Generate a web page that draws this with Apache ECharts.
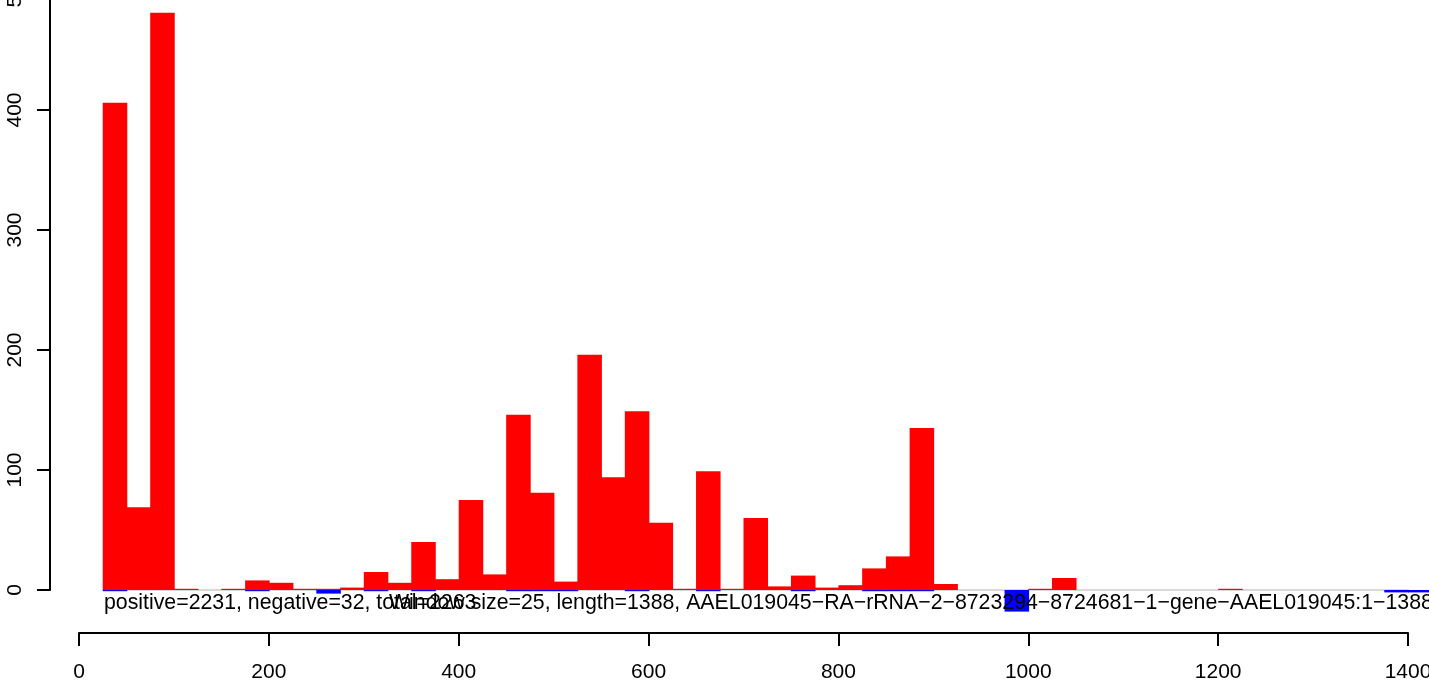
<!DOCTYPE html>
<html>
<head>
<meta charset="utf-8">
<script src="https://cdn.jsdelivr.net/npm/echarts@6/dist/echarts.min.js"></script>
<style>
html,body{margin:0;padding:0;background:#fff;}
#chart{width:1429px;height:685px;}
</style>
</head>
<body>
<div id="chart"></div>
<script>
// Bin starts (window size 25)
const binStarts = [25,50,75,100,125,150,175,200,225,250,275,300,325,350,375,400,425,450,475,500,
  525,550,575,600,625,650,675,700,725,750,775,800,825,850,875,900,925,950,975,1000,
  1025,1050,1075,1100,1125,1150,1175,1200,1225,1250,1275,1300,1325,1350,1375,1400];
const binWidth = 25;
// Positive counts per bin
const positive = [406,69,481,1,0,1,8,6,1,1,2,15,6,40,9,75,13,146,81,7,
  196,94,149,56,1,99,1,60,3,12,2,4,18,28,135,5,0,0,0,1,
  10,0,0,0,0,0,0,1,0,0,0,0,0,0,0,0];
// Negative counts per bin (magnitude)
const negative = [1,0,0,0,0,0,1,0,0,3,0,1,0,1,0,0,0,1,1,1,
  0,0,1,0,0,1,0,0,0,1,0,0,1,1,1,0,0,0,18,0,
  0,0,0,0,0,0,0,0,0,0,0,0,0,0,2,2];
const xTicks = [0,200,400,600,800,1000,1200,1400];
const yTicks = [0,100,200,300,400,500];
const statsText = 'positive=2231, negative=32, total=2263';
const titleText = 'Window size=25, length=1388, AAEL019045\u2212RA\u2212rRNA\u22122\u22128723294\u22128724681\u22121\u2212gene\u2212AAEL019045:1\u22121388';

const FONT = '"Liberation Sans", Arial, Helvetica, sans-serif';
const posData = binStarts.map((s,i)=>[s, positive[i]]);
const negData = binStarts.map((s,i)=>[s, -negative[i]]);

function rectRenderer(color){
  return function(params, api){
    const x0 = api.value(0), v = api.value(1);
    if (v === 0) return null;
    const p0 = api.coord([x0, 0]);
    const p1 = api.coord([x0 + binWidth, v]);
    return {
      type:'rect',
      shape:{x:p0[0], y:Math.min(p0[1],p1[1]), width:p1[0]-p0[0]+0.8, height:Math.abs(p1[1]-p0[1])},
      style:{fill:color}
    };
  };
}

const chart = echarts.init(document.getElementById('chart'), null, {renderer:'canvas'});
chart.setOption({
  animation:false,
  backgroundColor:'#ffffff',
  grid:{left:79, right:21, top:-10, bottom:95, containLabel:false, outerBoundsMode:'none'},
  xAxis:{
    type:'value', min:xTicks[0], max:xTicks[xTicks.length-1], interval:200,
    offset:43,
    axisLine:{show:true, onZero:false, lineStyle:{color:'#000', width:2}},
    axisTick:{show:true, length:13, lineStyle:{color:'#000', width:2}},
    axisLabel:{show:true, margin:29, color:'#000', fontSize:21, fontFamily:FONT,
      formatter:function(v){ return String(v); }},
    splitLine:{show:false}
  },
  yAxis:{
    type:'value', min:yTicks[0], max:yTicks[yTicks.length-1], interval:100,
    offset:29,
    axisLine:{show:true, onZero:false, lineStyle:{color:'#000', width:2}},
    axisTick:{show:true, length:13, lineStyle:{color:'#000', width:2}},
    axisLabel:{show:true, rotate:90, margin:24, color:'#000', fontSize:21, fontFamily:FONT,
      formatter:function(v){ return String(v); }},
    splitLine:{show:false}
  },
  series:[
    {
      type:'line', data:[[25,0],[1450,0]], symbol:'none', clip:false, silent:true, z:1,
      lineStyle:{color:'#b4b4b4', width:1}
    },
    {type:'custom', renderItem:rectRenderer('#ff0000'), data:posData, clip:false, z:2, silent:true},
    {type:'custom', renderItem:rectRenderer('#0000ff'), data:negData, clip:false, z:3, silent:true}
  ],
  graphic:[
    {type:'text', left:104, top:593, z:10, style:{text:statsText, fill:'#000', font:'21.3px '+FONT}},
    {type:'text', left:389, top:593, z:10, style:{text:titleText, fill:'#000', font:'21.3px '+FONT}}
  ]
});
</script>
</body>
</html>
